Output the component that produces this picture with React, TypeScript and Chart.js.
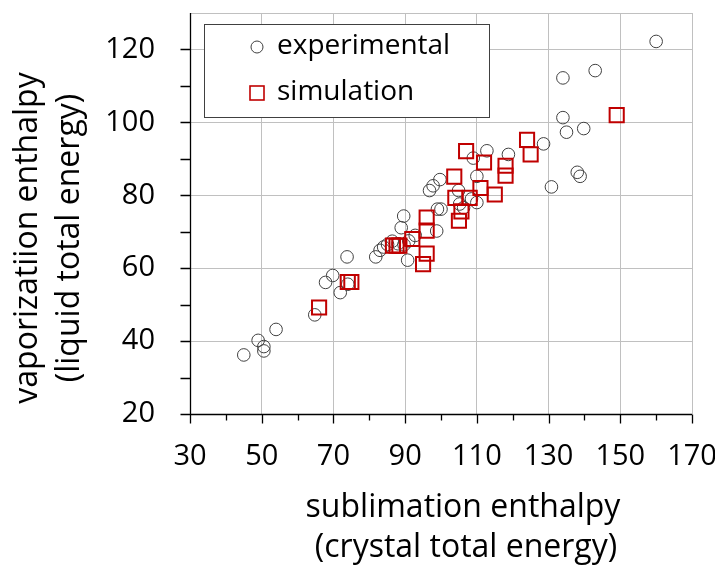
import React, { useEffect, useRef } from "react";
import { Chart, registerables } from "chart.js";

Chart.register(...registerables);

const expX = [45, 49, 50.6, 50.6, 54, 64.8, 67.8, 69.8, 71.9, 74, 73.8, 81.8, 83, 84, 85.1, 86.4, 88, 89.7, 88.9, 89.6, 90.7, 91, 92.8, 96.8, 97.8, 99.7, 99, 100, 98.8, 104.9, 105.2, 106.3, 108.5, 110, 109, 110, 112.8, 118.8, 128.6, 130.8, 134, 135, 139.8, 138, 138.8, 134, 143, 160];
const expY = [36.2, 40.2, 38.5, 37.3, 43.2, 47.2, 56.1, 58, 53.3, 55.6, 63.1, 63.1, 64.9, 65.8, 66.5, 67.4, 66.7, 66.4, 71.1, 74.3, 62.2, 67.5, 69, 81.3, 82.6, 84.3, 76.2, 76.2, 70.2, 81.3, 77.6, 76.6, 79, 78, 90.2, 85.2, 92.2, 91.2, 94.1, 82.3, 101.3, 97.3, 98.3, 86.3, 85.2, 112.2, 114.2, 122.2];

const simX = [66, 74, 75, 86.6, 87.6, 88.4, 92, 95, 96, 96, 96, 104, 105, 105.7, 108, 103.7, 107, 111, 112, 115, 118, 118, 124, 125, 149];
const simY = [49.2, 56.2, 56.2, 66.2, 66.2, 66.2, 68, 61.1, 64, 70.3, 73.9, 79.3, 73, 75.6, 79.3, 85.1, 92.1, 82, 89, 80.2, 88.1, 85.4, 95.2, 91.2, 102];

const xLabelValues = [30, 50, 70, 90, 110, 130, 150, 170];
const yLabelValues = [20, 40, 60, 80, 100, 120];

const seriesNames = ["experimental", "simulation"];
const xTitleLines = ["sublimation enthalpy", "(crystal total energy)"];
const yTitleLines = ["vaporizatiion enthalpy", "(liquid total energy)"];

const FONT = "'Open Sans', 'Noto Sans', sans-serif";

const axesPlugin = {
  id: "axesPlugin",
  beforeDatasetsDraw(chart: any) {
    const { ctx, chartArea } = chart;
    const xs = chart.scales.x;
    const ys = chart.scales.y;
    const L = Math.round(chartArea.left) + 0.5;
    const B = Math.round(chartArea.bottom) + 0.5;
    ctx.save();
    ctx.strokeStyle = "#000";
    ctx.lineWidth = 1.3;
    ctx.beginPath();
    ctx.moveTo(L, chartArea.top);
    ctx.lineTo(L, B + 9);
    ctx.moveTo(L - 10, B);
    ctx.lineTo(chartArea.right, B);
    for (let v = 20; v <= 120; v += 10) {
      const py = Math.round(ys.getPixelForValue(v)) + 0.5;
      ctx.moveTo(L - 10, py);
      ctx.lineTo(L, py);
    }
    for (let v = 30; v <= 170; v += 10) {
      const px = Math.round(xs.getPixelForValue(v)) + 0.5;
      const major = (v - 30) % 20 === 0;
      ctx.moveTo(px, B);
      ctx.lineTo(px, B + (major ? 9 : 6));
    }
    ctx.stroke();
    ctx.restore();
  },
  afterDraw(chart: any) {
    const { ctx } = chart;
    ctx.save();
    ctx.fillStyle = "#000";
    ctx.font = `32px ${FONT}`;
    ctx.textAlign = "center";
    ctx.textBaseline = "middle";
    ctx.fillText(xTitleLines[0], 455, 500);
    ctx.fillText(xTitleLines[1], 458, 540);
    ctx.translate(20, 230);
    ctx.rotate(-Math.PI / 2);
    ctx.fillText(yTitleLines[0], 0, 0);
    ctx.restore();
    ctx.save();
    ctx.fillStyle = "#000";
    ctx.font = `32px ${FONT}`;
    ctx.textAlign = "center";
    ctx.textBaseline = "middle";
    ctx.translate(62, 230);
    ctx.rotate(-Math.PI / 2);
    ctx.fillText(yTitleLines[1], 0, 0);
    ctx.restore();

    ctx.save();
    ctx.fillStyle = "#fff";
    ctx.fillRect(196, 16, 285, 93);
    ctx.strokeStyle = "#404040";
    ctx.lineWidth = 1;
    ctx.strokeRect(196.5, 16.5, 285, 93);
    ctx.beginPath();
    ctx.arc(249, 39, 6, 0, Math.PI * 2);
    ctx.strokeStyle = "#404040";
    ctx.lineWidth = 1;
    ctx.stroke();
    ctx.strokeStyle = "#c00000";
    ctx.lineWidth = 1.6;
    ctx.strokeRect(242, 78, 14, 14);
    ctx.fillStyle = "#000";
    ctx.font = `28px ${FONT}`;
    ctx.textAlign = "left";
    ctx.textBaseline = "middle";
    ctx.fillText(seriesNames[0], 269, 38);
    ctx.fillText(seriesNames[1], 269, 84);
    ctx.restore();
  },
};

export default function App() {
  const ref = useRef<HTMLCanvasElement | null>(null);
  useEffect(() => {
    if (!ref.current) return;
    const chart = new Chart(ref.current, {
      type: "scatter",
      data: {
        datasets: [
          {
            label: seriesNames[0],
            data: expX.map((x, i) => ({ x, y: expY[i] })),
            pointStyle: "circle",
            pointRadius: 6.3,
            pointBorderColor: "#404040",
            pointBackgroundColor: "rgba(0,0,0,0)",
            pointBorderWidth: 1,
            order: 2,
          },
          {
            label: seriesNames[1],
            data: simX.map((x, i) => ({ x, y: simY[i] })),
            pointStyle: "rect",
            pointRadius: 10,
            pointBorderColor: "#c00000",
            pointBackgroundColor: "rgba(0,0,0,0)",
            pointBorderWidth: 2,
            order: 1,
          },
        ],
      },
      options: {
        animation: false,
        responsive: true,
        maintainAspectRatio: false,
        layout: { autoPadding: false, padding: { top: 5, right: 23, left: 0, bottom: 0 } },
        plugins: { legend: { display: false }, tooltip: { enabled: false }, title: { display: false } },
        scales: {
          x: {
            type: "linear",
            min: 30,
            max: 170,
            ticks: {
              stepSize: 10,
              autoSkip: false,
              maxRotation: 0,
              color: "#000",
              padding: 25,
              font: { family: FONT, size: 29 },
              callback: (v: any) => (xLabelValues.includes(Number(v)) ? String(v) : ""),
            },
            grid: {
              drawTicks: false,
              lineWidth: 1,
              color: (c: any) => {
                const v = c.tick ? c.tick.value : 0;
                return xLabelValues.includes(v) && v !== 30 ? "#c0c0c0" : "rgba(0,0,0,0)";
              },
            },
            border: { display: false },
            afterFit: (s: any) => {
              s.height = 154;
              s.paddingLeft = 0;
              s.paddingRight = 0;
            },
          },
          y: {
            type: "linear",
            min: 20,
            max: 130,
            ticks: {
              stepSize: 10,
              autoSkip: false,
              color: "#000",
              padding: 35,
              font: { family: FONT, size: 29 },
              callback: (v: any) => (yLabelValues.includes(Number(v)) ? String(v) : ""),
            },
            grid: {
              drawTicks: false,
              lineWidth: 1,
              color: (c: any) => {
                const v = c.tick ? c.tick.value : 0;
                return (yLabelValues.includes(v) && v !== 20) || v === 130 ? "#c0c0c0" : "rgba(0,0,0,0)";
              },
            },
            border: { display: false },
            afterFit: (s: any) => {
              s.width = 182;
              s.paddingTop = 0;
              s.paddingBottom = 0;
            },
          },
        },
      },
      plugins: [axesPlugin],
    });
    return () => chart.destroy();
  }, []);
  return (
    <div style={{ position: "fixed", left: 8, top: 8, width: 707, height: 560 }}>
      <canvas ref={ref} />
    </div>
  );
}
